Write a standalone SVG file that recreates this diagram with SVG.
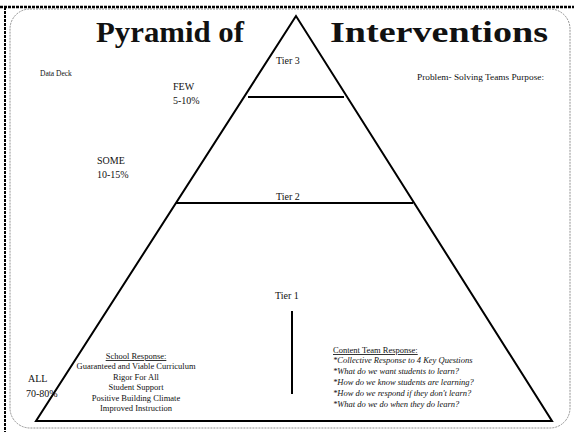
<svg xmlns="http://www.w3.org/2000/svg" width="574" height="432" viewBox="0 0 574 432">
<style>
.s{font-family:"Liberation Serif","Times New Roman",serif;fill:#111}
.t{font-size:29px;font-weight:bold}
.sm{font-size:7.5px}
.rs{font-size:8.5px}
.md{font-size:10px}
.it{font-style:italic}
.ln{stroke:#000;stroke-width:2;fill:none}
</style>
<rect width="574" height="432" fill="#fff"/>
<g id="frame">
<line x1="0" y1="7" x2="574" y2="7" stroke="#000" stroke-width="2.5" stroke-dasharray="3 1"/>
<line x1="5" y1="7" x2="5" y2="432" stroke="#000" stroke-width="2" stroke-dasharray="3 1"/>
<rect x="10" y="9" width="560" height="419" rx="20" fill="none" stroke="#777" stroke-width="0.8" stroke-dasharray="2 1"/>
</g>
<g id="pyramid">
<polygon points="296,16 36,421 552,421" class="ln"/>
<line x1="248" y1="97" x2="344" y2="97" class="ln"/>
<line x1="176" y1="203" x2="413" y2="203" class="ln"/>
<line x1="292" y1="311" x2="292" y2="394" class="ln"/>
</g>
<g id="title">
<text class="s t" x="96" y="42" textLength="148" lengthAdjust="spacingAndGlyphs">Pyramid of</text>
<text class="s t" x="330" y="42" textLength="218" lengthAdjust="spacingAndGlyphs">Interventions</text>
</g>
<g id="tiers">
<text class="s md" x="276" y="64">Tier 3</text>
<text class="s md" x="276" y="200">Tier 2</text>
<text class="s md" x="275" y="299">Tier 1</text>
</g>
<g id="labels">
<text class="s sm" x="40" y="76">Data Deck</text>
<text class="s sm" x="417" y="80" textLength="127" lengthAdjust="spacingAndGlyphs">Problem- Solving Teams Purpose:</text>
<text class="s md" x="173" y="90">FEW</text>
<text class="s md" x="173" y="104">5-10%</text>
<text class="s md" x="97" y="164">SOME</text>
<text class="s md" x="97" y="178">10-15%</text>
<text class="s md" x="28" y="382">ALL</text>
<text class="s md" x="26" y="397">70-80%</text>
</g>
<g id="school">
<text class="s rs" text-anchor="middle" x="136" y="359" text-decoration="underline">School Response:</text>
<text class="s rs" text-anchor="middle" x="136" y="369">Guaranteed and Viable Curriculum</text>
<text class="s rs" text-anchor="middle" x="136" y="380">Rigor For All</text>
<text class="s rs" text-anchor="middle" x="136" y="390">Student Support</text>
<text class="s rs" text-anchor="middle" x="136" y="401">Positive Building Climate</text>
<text class="s rs" text-anchor="middle" x="136" y="411">Improved Instruction</text>
</g>
<g id="content">
<text class="s rs" x="333" y="353" text-decoration="underline">Content Team Response:</text>
<text class="s rs it" x="333" y="363">*Collective Response to 4 Key Questions</text>
<text class="s rs it" x="333" y="374">*What do we want students to learn?</text>
<text class="s rs it" x="333" y="385">*How do we know students are learning?</text>
<text class="s rs it" x="333" y="396">*How do we respond if they don't learn?</text>
<text class="s rs it" x="333" y="407">*What do we do when they do learn?</text>
</g>
</svg>
